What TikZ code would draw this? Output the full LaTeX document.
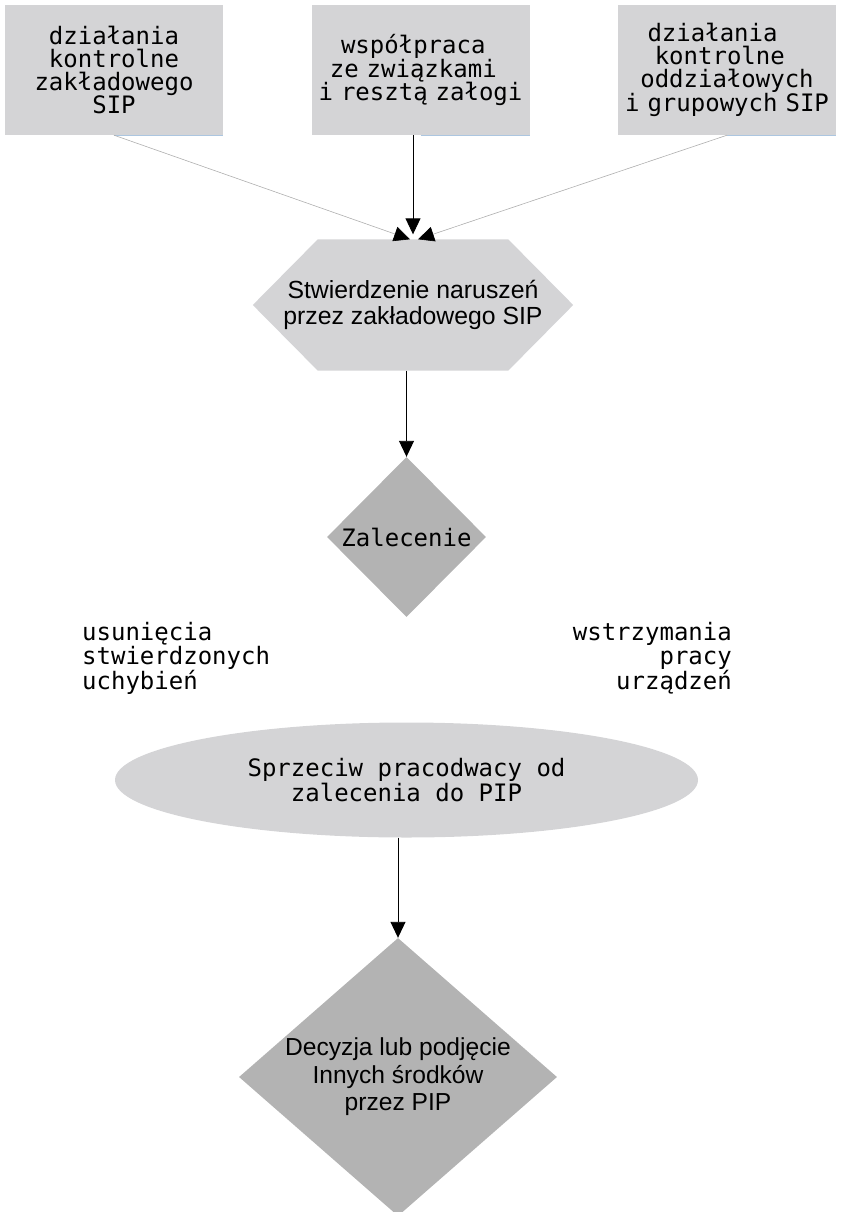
\documentclass[tikz,border=0pt]{standalone}
\usepackage{fontspec}
\setmainfont{Liberation Sans}
\setmonofont{DejaVu Sans Mono}
\usetikzlibrary{arrows.meta,shapes.geometric,backgrounds}
\definecolor{boxgray}{RGB}{212,212,214}
\definecolor{decgray}{RGB}{179,179,179}
\definecolor{linegray}{RGB}{175,175,175}
\definecolor{edgeblue}{RGB}{172,198,224}

\begin{document}
\begin{tikzpicture}[x=1pt,y=-1pt,
        mono/.style={font=\ttfamily\fontsize{24}{24.5}\selectfont,inner sep=0pt},
        src/.style={fill=boxgray,minimum width=218pt,minimum height=130pt,
            text width=218pt,inner sep=0pt,align=center,
            font=\ttfamily\fontsize{24}{23}\selectfont},
        flow/.style={-{Triangle[length=16pt,width=15pt]},black,line width=0.9pt},
        feed/.style={linegray,line width=0.6pt,
            -{Triangle[length=16pt,width=15pt,color=black]}}]
    \useasboundingbox (0,0) rectangle (846,1212);
    % sources
    \node[src] (b1) at (114,70) {działania\\kontrolne\\zakładowego\\SIP};
    \node[src] (b2) at (420.5,70) {współpraca\hphantom{x}\\ze związkami\hphantom{x}\\i resztą załogi};
    \node[src] (b3) at (727,70) {działania\hphantom{xx}\\kontrolne\hphantom{x}\\oddziałowych\\i grupowych SIP};
    \foreach \b in {b1,b2,b3}
        \draw[edgeblue,line width=0.6pt] (\b.south) -- (\b.south east);
    % flow
    \node[minimum width=320pt,minimum height=131pt,inner sep=0pt,align=center,
        font=\fontsize{24.8}{25.5}\selectfont] (viol) at (413,305)
        {Stwierdzenie naruszeń\\przez zakładowego SIP};
    \begin{scope}[on background layer]
        \fill[boxgray] (viol.west) -- ([xshift=65pt]viol.north west)
            -- ([xshift=-65pt]viol.north east) -- (viol.east)
            -- ([xshift=-65pt]viol.south east) -- ([xshift=65pt]viol.south west) -- cycle;
    \end{scope}
    \node[diamond,fill=decgray,minimum width=159pt,minimum height=160pt,mono]
        (rec) at (406.5,537) {Zalecenie};
    \node[mono,anchor=west,align=left] (fix) at (82,658)
        {usunięcia\\stwierdzonych\\uchybień};
    \node[mono,anchor=east,align=right] (halt) at (732,658)
        {wstrzymania\\pracy\\urządzeń};
    \node[ellipse,fill=boxgray,minimum width=583pt,minimum height=115pt,
        mono,align=center] (obj) at (406.5,780)
        {Sprzeciw pracodwacy od\\zalecenia do PIP};
    \node[diamond,aspect=1.14,fill=decgray,minimum width=318pt,minimum height=278pt,
        inner sep=0pt,align=center,font=\fontsize{24.6}{27.5}\selectfont]
        (dec) at (398,1077) {Decyzja lub podjęcie\\Innych środków\\przez PIP};
    % connectors
    \draw[feed] (b1.south) -- ([xshift=-3pt]viol.north);
    \draw[feed] (b3.south) -- ([xshift=5pt]viol.north);
    \draw[flow,shorten >=5pt] (viol.north |- b2.south) -- (viol.north);
    \draw[flow] (viol.south -| rec.north) -- (rec.north);
    \draw[flow] (obj.south -| dec.north) -- (dec.north);
\end{tikzpicture}
\end{document}
